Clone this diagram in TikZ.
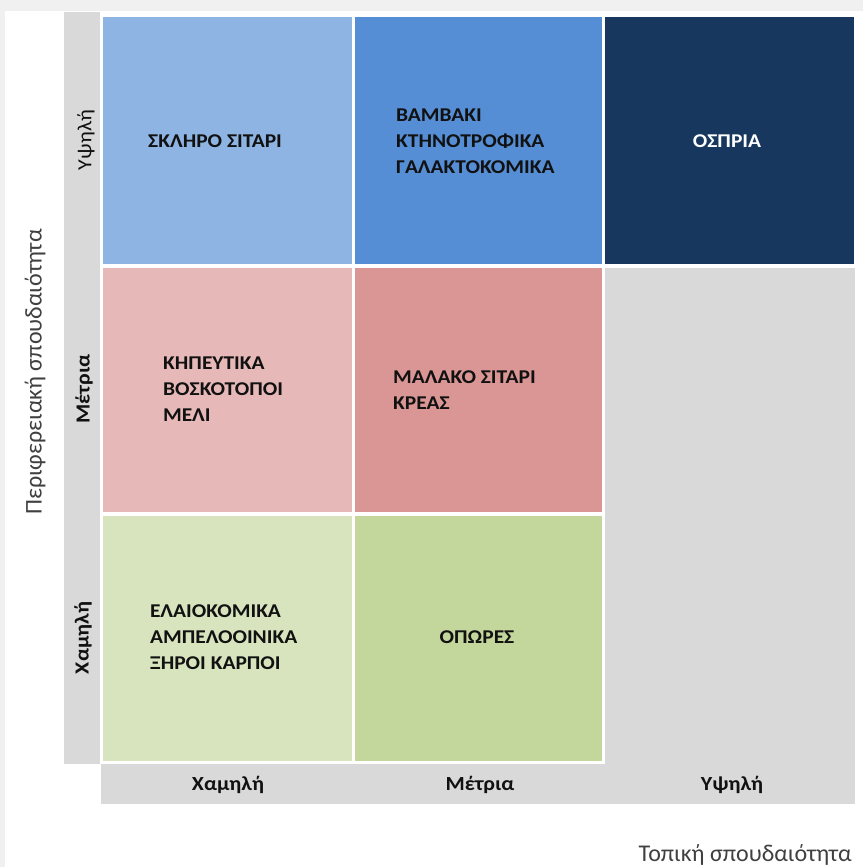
\documentclass[tikz,border=0pt]{standalone}
\usepackage{fontspec}
\setmainfont{Carlito}
\newfontfamily\widefont{Carlito}[FakeStretch=1.1]
\definecolor{gbg}{HTML}{D9D9D9}
\definecolor{frame}{HTML}{F0F0F0}
\definecolor{cA}{HTML}{8EB4E3}
\definecolor{cB}{HTML}{558ED5}
\definecolor{cC}{HTML}{17375E}
\definecolor{cD}{HTML}{E6B9B8}
\definecolor{cE}{HTML}{D99694}
\definecolor{cF}{HTML}{D7E4BD}
\definecolor{cG}{HTML}{C3D69B}
\definecolor{txt}{HTML}{111111}
\definecolor{ttl}{HTML}{404040}
\tikzset{
  cell/.style={rectangle, inner sep=0pt, outer sep=0pt, draw=none},
  celltext/.style={font=\widefont\bfseries\fontsize{19.5}{26}\selectfont, text=txt, align=left, inner sep=0pt, anchor=west},
  axlbl/.style={font=\widefont\bfseries\fontsize{20}{22}\selectfont, text=txt, inner sep=0pt},
  axtitle/.style={font=\fontsize{24}{28}\selectfont, text=ttl, inner sep=0pt}
}
\begin{document}
\begin{tikzpicture}[x=1pt,y=-1pt]
\useasboundingbox (0,0) rectangle (863,867);
\fill[white] (0,0) rectangle (863,867);
% light page frame
\fill[frame] (0,0) rectangle (863,11);
\fill[frame] (0,0) rectangle (5,867);
% grey axis strips
\fill[gbg] (64,12) rectangle (100,764);
\fill[gbg] (101,764) rectangle (855,804);
\fill[gbg] (605,268) rectangle (855,804);
% cells
\node[cell, fill=cA, minimum width=249pt, minimum height=247pt] (c11) at (227.5,140.5) {};
\node[cell, fill=cB, minimum width=247pt, minimum height=247pt] (c12) at (478.5,140.5) {};
\node[cell, fill=cC, minimum width=249pt, minimum height=247pt] (c13) at (729.5,140.5) {};
\node[cell, fill=cD, minimum width=249pt, minimum height=244pt] (c21) at (227.5,390) {};
\node[cell, fill=cE, minimum width=247pt, minimum height=244pt] (c22) at (478.5,390) {};
\node[cell, fill=cF, minimum width=249pt, minimum height=245pt] (c31) at (227.5,638.5) {};
\node[cell, fill=cG, minimum width=247pt, minimum height=245pt] (c32) at (478.5,638.5) {};
% cell texts
\node[celltext] (t11) at (148,141) {ΣΚΛΗΡΟ ΣΙΤΑΡΙ};
\node[celltext] (t12) at (396,141) {ΒΑΜΒΑΚΙ\\ΚΤΗΝΟΤΡΟΦΙΚΑ\\ΓΑΛΑΚΤΟΚΟΜΙΚΑ};
\node[celltext, anchor=center, text=white] (t13) at (727,141) {ΟΣΠΡΙΑ};
\node[celltext] (t21) at (163,389) {ΚΗΠΕΥΤΙΚΑ\\ΒΟΣΚΟΤΟΠΟΙ\\ΜΕΛΙ};
\node[celltext] (t22) at (393,390) {ΜΑΛΑΚΟ ΣΙΤΑΡΙ\\ΚΡΕΑΣ};
\node[celltext] (t31) at (150,637) {ΕΛΑΙΟΚΟΜΙΚΑ\\ΑΜΠΕΛΟΟΙΝΙΚΑ\\ΞΗΡΟΙ ΚΑΡΠΟΙ};
\node[celltext, anchor=center] (t32) at (477,637) {ΟΠΩΡΕΣ};
% axis labels
\node[axlbl] (bx1) at (228,785) {Χαμηλή};
\node[axlbl] (bx2) at (480,785) {Μέτρια};
\node[axlbl] (bx3) at (732,785) {Υψηλή};
\node[axlbl, font=\widefont\fontsize{20}{22}\selectfont, rotate=90] (ly1) at (86,140) {Υψηλή};
\node[axlbl, rotate=90] (ly2) at (84,389) {Μέτρια};
\node[axlbl, rotate=90] (ly3) at (83,638) {Χαμηλή};
% axis titles
\node[axtitle, rotate=90] (yt) at (35,372) {Περιφερειακή σπουδαιότητα};
\node[axtitle, anchor=east] (xt) at (852,855) {Τοπική σπουδαιότητα};
\end{tikzpicture}
\end{document}
